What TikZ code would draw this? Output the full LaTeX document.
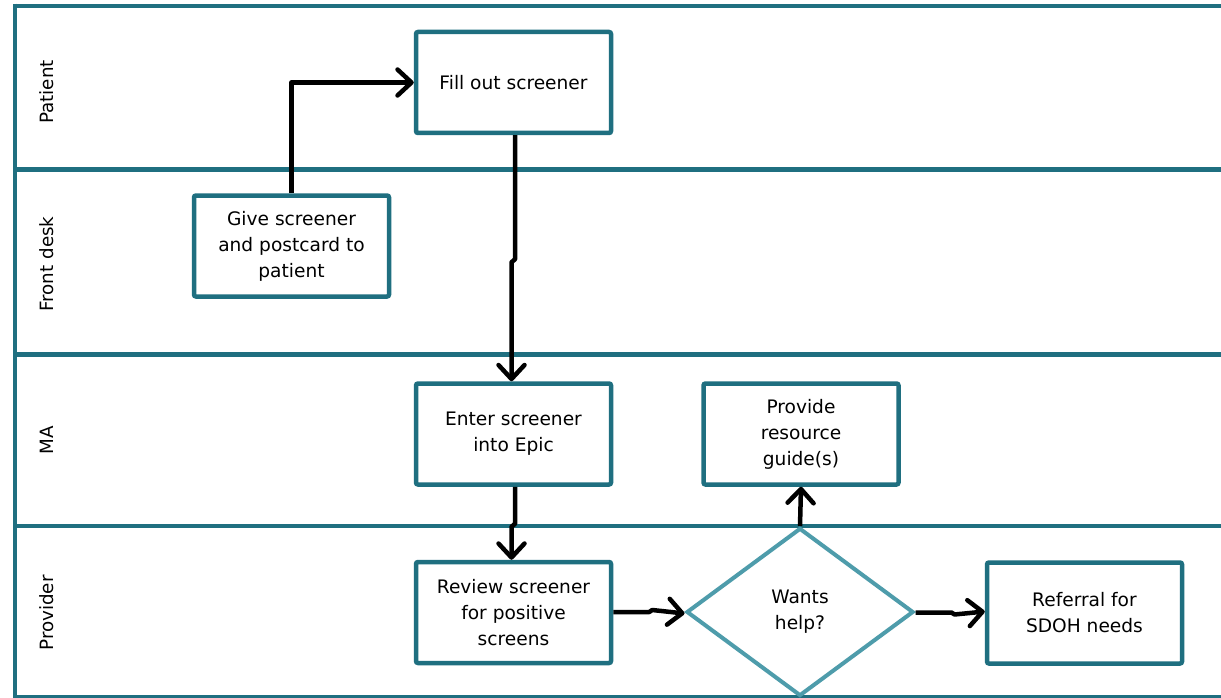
\documentclass[tikz,border=0pt]{standalone}
\usepackage{fontspec}
\setmainfont{DejaVu Sans}
\usetikzlibrary{arrows.meta,shapes.geometric}
\definecolor{lanec}{HTML}{1F6F80}
\definecolor{boxc}{HTML}{1F6F80}
\definecolor{diac}{HTML}{4E9CAB}
\begin{document}
\begin{tikzpicture}[x=1pt,y=-1pt,
  laneline/.style={draw=lanec,line width=4.5pt},
  lanelabel/.style={rotate=90,font=\fontsize{18.3}{22}\selectfont,inner sep=0pt},
  procbox/.style={draw=boxc,line width=4.5pt,rounded corners=2pt,fill=white,
    minimum width=195pt,minimum height=101pt,align=center,inner sep=0pt,
    font=\fontsize{18.6}{26}\selectfont},
  decision/.style={diamond,draw=diac,line width=4pt,fill=white,
    minimum width=227pt,minimum height=168pt,align=center,inner sep=0pt,
    font=\fontsize{18.6}{26}\selectfont},
  flow/.style={draw=black,line width=4.5pt,line join=round,
    -{Straight Barb[length=14pt,width=26pt,round]}}
]
\useasboundingbox (0,0) rectangle (1221,698);
\fill[white] (0,0) rectangle (1221,698);
% swimlanes
\draw[laneline] (15,6) -- (1221,6);
\draw[laneline] (15,169.5) -- (1221,169.5);
\draw[laneline] (15,354.5) -- (1221,354.5);
\draw[laneline] (15,526) -- (1221,526);
\draw[laneline] (15,697.5) -- (1221,697.5);
\draw[laneline] (15,3.75) -- (15,700);
\node[lanelabel] (lp) at (47,92) {Patient};
\node[lanelabel] (lf) at (47,264) {Front desk};
\node[lanelabel] (lm) at (47,440) {MA};
\node[lanelabel] (lv) at (47,613) {Provider};
% nodes
\node[procbox] (fill) at (513.5,82.5) {Fill out screener};
\node[procbox] (give) at (291.5,246) {Give screener\\and postcard to\\patient};
\node[procbox] (enter) at (513.5,434) {Enter screener\\into Epic};
\node[procbox] (guide) at (801,434) {Provide\\resource\\guide(s)};
\node[procbox] (review) at (513.5,612.5) {Review screener\\for positive\\screens};
\node[decision] (help) at (800,612) {Wants\\help?};
\node[procbox] (ref) at (1084.5,613) {Referral for\\SDOH needs};
% connectors
\draw[flow] (give.north) |- (fill.west);
\draw[flow] ([xshift=1.5pt]fill.south) -- ++(0,124) -- ++(-3.5,3) -- ([xshift=-2pt]enter.north);
\draw[flow] ([xshift=1.5pt]enter.south) -- ++(0,37) -- ++(-3.5,3) -- ([xshift=-2pt]review.north);
\draw[flow] ([yshift=0.5pt]review.east) -- ++(36,0) -- ++(3,-2) -- ([yshift=-1.5pt]help.west);
\draw[flow] (help.north) -- (guide.south);
\draw[flow] ([yshift=-0.5pt]help.east) -- ++(36,0) -- ++(3,2) -- ([yshift=1.5pt]ref.west);
\end{tikzpicture}
\end{document}
